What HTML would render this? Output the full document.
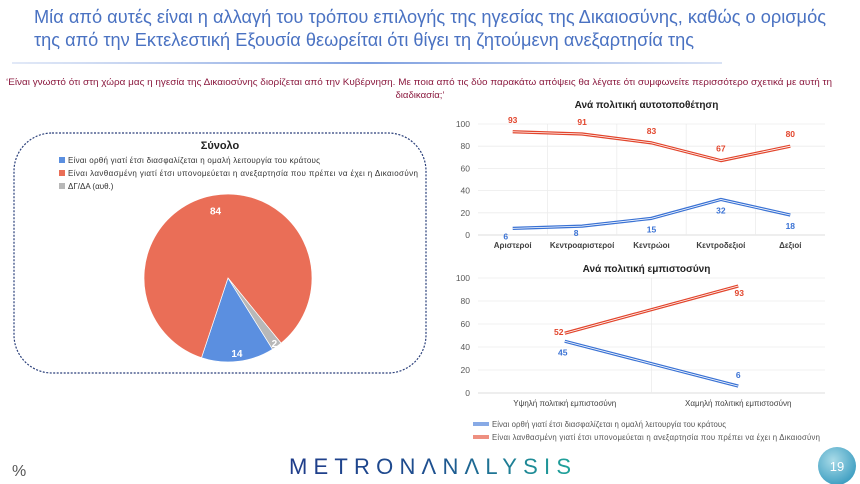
<!DOCTYPE html>
<html><head><meta charset="utf-8"><style>
body{margin:0;background:#fff;}
#root{position:relative;width:860px;height:484px;overflow:hidden;font-family:"Liberation Sans","DejaVu Sans",sans-serif;}
svg text{font-family:"Liberation Sans","DejaVu Sans",sans-serif;}
</style></head><body>
<div id="root">
<svg width="860" height="484" viewBox="0 0 860 484">
<defs>
<linearGradient id="ul" x1="0" x2="1"><stop offset="0" stop-color="#9fb7e6" stop-opacity="0.3"/><stop offset="0.5" stop-color="#7e9fe0"/><stop offset="1" stop-color="#9fb7e6" stop-opacity="0.4"/></linearGradient>
<linearGradient id="logo" x1="0" x2="1"><stop offset="0" stop-color="#1f3c8a"/><stop offset="0.5" stop-color="#1e4f8f"/><stop offset="1" stop-color="#1fa39a"/></linearGradient>
<radialGradient id="pg" cx="0.4" cy="0.35" r="0.7"><stop offset="0" stop-color="#a9dbe8"/><stop offset="1" stop-color="#3a9cc0"/></radialGradient>
</defs>
<text x="34" y="23" font-size="18" fill="#4a72c2" textLength="792" lengthAdjust="spacingAndGlyphs">Μία από αυτές είναι η αλλαγή του τρόπου επιλογής της ηγεσίας της Δικαιοσύνης, καθώς ο ορισμός</text>
<text x="34" y="46" font-size="18" fill="#4a72c2" textLength="660" lengthAdjust="spacingAndGlyphs">της από την Εκτελεστική Εξουσία θεωρείται ότι θίγει τη ζητούμενη ανεξαρτησία της</text>
<rect x="12" y="62" width="710" height="2" fill="url(#ul)"/>
<text x="6" y="85" font-size="9.6" fill="#8b1a3f" textLength="826" lengthAdjust="spacingAndGlyphs">‘Είναι γνωστό ότι στη χώρα μας η ηγεσία της Δικαιοσύνης διορίζεται από την Κυβέρνηση. Με ποια από τις δύο παρακάτω απόψεις θα λέγατε ότι συμφωνείτε περισσότερο σχετικά με αυτή τη</text>
<text x="420" y="98" font-size="9.6" fill="#8b1a3f" text-anchor="middle">διαδικασία;’</text>

<rect x="14" y="133" width="412" height="240" rx="38" fill="none" stroke="#2a3f7a" stroke-width="1.2" stroke-dasharray="2,1.5"/>
<text x="220" y="149" font-size="11" font-weight="bold" fill="#222" text-anchor="middle">Σύνολο</text>
<g id="pieLegend"></g>
<g id="pie"></g>
<g id="c1"></g>
<g id="c2"></g>

<text x="12" y="476" font-size="16" fill="#555">%</text>
<text x="289" y="474" font-size="22" fill="url(#logo)" textLength="282" lengthAdjust="spacing">METRON&#923;N&#923;LYSIS</text>
<circle cx="837" cy="466" r="19" fill="url(#pg)"/>
<text x="837" y="471" font-size="13" fill="#fff" text-anchor="middle">19</text>
</svg>
</div>
<script>
var NS='http://www.w3.org/2000/svg';
function mk(p,t,a,txt){var e=document.createElementNS(NS,t);for(var k in a)e.setAttribute(k,a[k]);if(txt!==undefined)e.textContent=txt;p.appendChild(e);return e;}
var BLUE='#3a72d4',RED='#e2452c';

// Pie data
var pieLabels=['Είναι ορθή γιατί έτσι διασφαλίζεται η ομαλή λειτουργία του κράτους','Είναι λανθασμένη γιατί έτσι υπονομεύεται η ανεξαρτησία που πρέπει να έχει η Δικαιοσύνη','ΔΓ/ΔΑ (αυθ.)'];
var pieValues=[14,84,2];
var pieColors=['#5b8fe0','#ea6e57','#b8b8b8'];
var pieLegW=[252,350,0];

var pl=document.getElementById('pieLegend');
pieLabels.forEach(function(l,i){
  var r=mk(pl,'rect',{x:59,y:157+i*13,width:6,height:6,fill:pieColors[i]});
  
  
  var a={x:68,y:163+i*13,'font-size':8,fill:'#333'};
  if(pieLegW[i]){a.textLength=pieLegW[i];a.lengthAdjust='spacing';}
  var t=mk(pl,'text',a,l);
  
  
});
var pg=document.getElementById('pie');
var cx=228,cy=278,R=84,start=148;
var tot=pieValues.reduce(function(a,b){return a+b;},0);
function pt(deg,r){var a=deg*Math.PI/180;return [cx+r*Math.sin(a),cy-r*Math.cos(a)];}
var acc=start;
var labR=[0.9,0.82,0.95];
pieValues.forEach(function(v,i){
  var sw=v/tot*360,a0=acc,a1=acc+sw;acc=a1;
  var p0=pt(a0,R),p1=pt(a1,R);
  var p=mk(pg,'path',{d:'M'+cx+','+cy+'L'+p0[0]+','+p0[1]+'A'+R+','+R+' 0 '+(sw>180?1:0)+' 1 '+p1[0]+','+p1[1]+'Z',fill:pieColors[i],stroke:'#fff','stroke-width':0.7});
  
  
  var m=(a0+a1)/2;var lp=pt(m,R*labR[i]);
  var t=mk(pg,'text',{x:lp[0],y:lp[1]+4,'font-size':10,'font-weight':'bold',fill:'#fff','text-anchor':'middle'},String(v));
  
  
});

// Line chart 1
var c1Cats=['Αριστεροί','Κεντροαριστεροί','Κεντρώοι','Κεντροδεξιοί','Δεξιοί'];
var c1Blue=[6,8,15,32,18];
var c1Red=[93,91,83,67,80];
// Line chart 2
var c2Cats=['Υψηλή πολιτική εμπιστοσύνη','Χαμηλή πολιτική εμπιστοσύνη'];
var c2Blue=[45,6];
var c2Red=[52,93];
var yTicks=[0,20,40,60,80,100];

function lineChart(g,o){
  var y=function(v){return o.y0-(o.y0-o.y1)*v/100;};
  var n=o.cats.length,w=(o.x1-o.x0)/n;
  var x=function(i){return o.x0+w*(i+0.5);};
  var t=mk(g,'text',{x:(o.x0+o.x1)/2-5,y:o.ty,'font-size':10,'font-weight':'bold',fill:'#222','text-anchor':'middle'},o.title);
  
  
  yTicks.forEach(function(v){
    var l=mk(g,'line',{x1:o.x0,x2:o.x1,y1:y(v),y2:y(v),stroke:v===0?'#d0d0d0':'#ececec','stroke-width':0.8});
    
    
    var tt=mk(g,'text',{x:o.x0-8,y:y(v)+3,'font-size':8.5,fill:'#595959','text-anchor':'end'},String(v));
    
    
  });
  for(var i=1;i<n;i++){var vl=mk(g,'line',{x1:o.x0+w*i,x2:o.x0+w*i,y1:o.y1,y2:o.y0,stroke:'#ececec','stroke-width':0.8});
    
    }
  o.cats.forEach(function(c,i){
    var ct=mk(g,'text',{x:x(i),y:o.y0+13,'font-size':8,fill:'#404040','text-anchor':'middle','font-weight':o.catBold?'bold':'normal'},c);
    
    
  });
  [[o.red,RED,-1,'red'],[o.blue,BLUE,1,'blue']].forEach(function(s){
    var d=s[0].map(function(v,i){return (i?'L':'M')+x(i)+','+y(v);}).join('');
    var p=mk(g,'path',{d:d,fill:'none',stroke:s[1],'stroke-width':3.2,'stroke-linejoin':'round'});
    
    
    var p2=mk(g,'path',{d:d,fill:'none',stroke:'#fff','stroke-width':0.8,'stroke-linejoin':'round'});
    
    
    s[0].forEach(function(v,i){
      var off=o.labOff(s[3],i);
      var lt=mk(g,'text',{x:x(i)+off[0],y:y(v)+off[1],'font-size':8.5,'font-weight':'bold',fill:s[1],'text-anchor':'middle'},String(v));
      
      
    });
  });
}
lineChart(document.getElementById('c1'),{cats:c1Cats,blue:c1Blue,red:c1Red,x0:478,x1:825,y0:235,y1:124,ty:108,catBold:true,title:'Ανά πολιτική αυτοτοποθέτηση',
  labOff:function(s,i){if(s==='red')return [0,-9];var b=[[-7,11],[-6,10],[0,14],[0,14],[0,14]];return b[i];}});
lineChart(document.getElementById('c2'),{cats:c2Cats,blue:c2Blue,red:c2Red,x0:478,x1:825,y0:393,y1:278,ty:272,title:'Ανά πολιτική εμπιστοσύνη',
  labOff:function(s,i){if(s==='red')return i?[1,10]:[-6,2];return i?[0,-8]:[-2,14];}});

var lg=document.getElementById('c2');
var legTxt=['Είναι ορθή γιατί έτσι διασφαλίζεται η ομαλή λειτουργία του κράτους','Είναι λανθασμένη γιατί έτσι υπονομεύεται η ανεξαρτησία που πρέπει να έχει η Δικαιοσύνη'];
var legW=[234,328];
[BLUE,RED].forEach(function(c,i){
  var l=mk(lg,'line',{x1:473,x2:489,y1:424+i*13,y2:424+i*13,stroke:c,'stroke-width':3.2});
  
  
  var l2=mk(lg,'line',{x1:473,x2:489,y1:424+i*13,y2:424+i*13,stroke:'#fff','stroke-width':0.8});
  
  
  var t=mk(lg,'text',{x:492,y:427+i*13,'font-size':7.8,fill:'#555',textLength:legW[i],lengthAdjust:'spacing'},legTxt[i]);
  
  
});
</script>
</body></html>
